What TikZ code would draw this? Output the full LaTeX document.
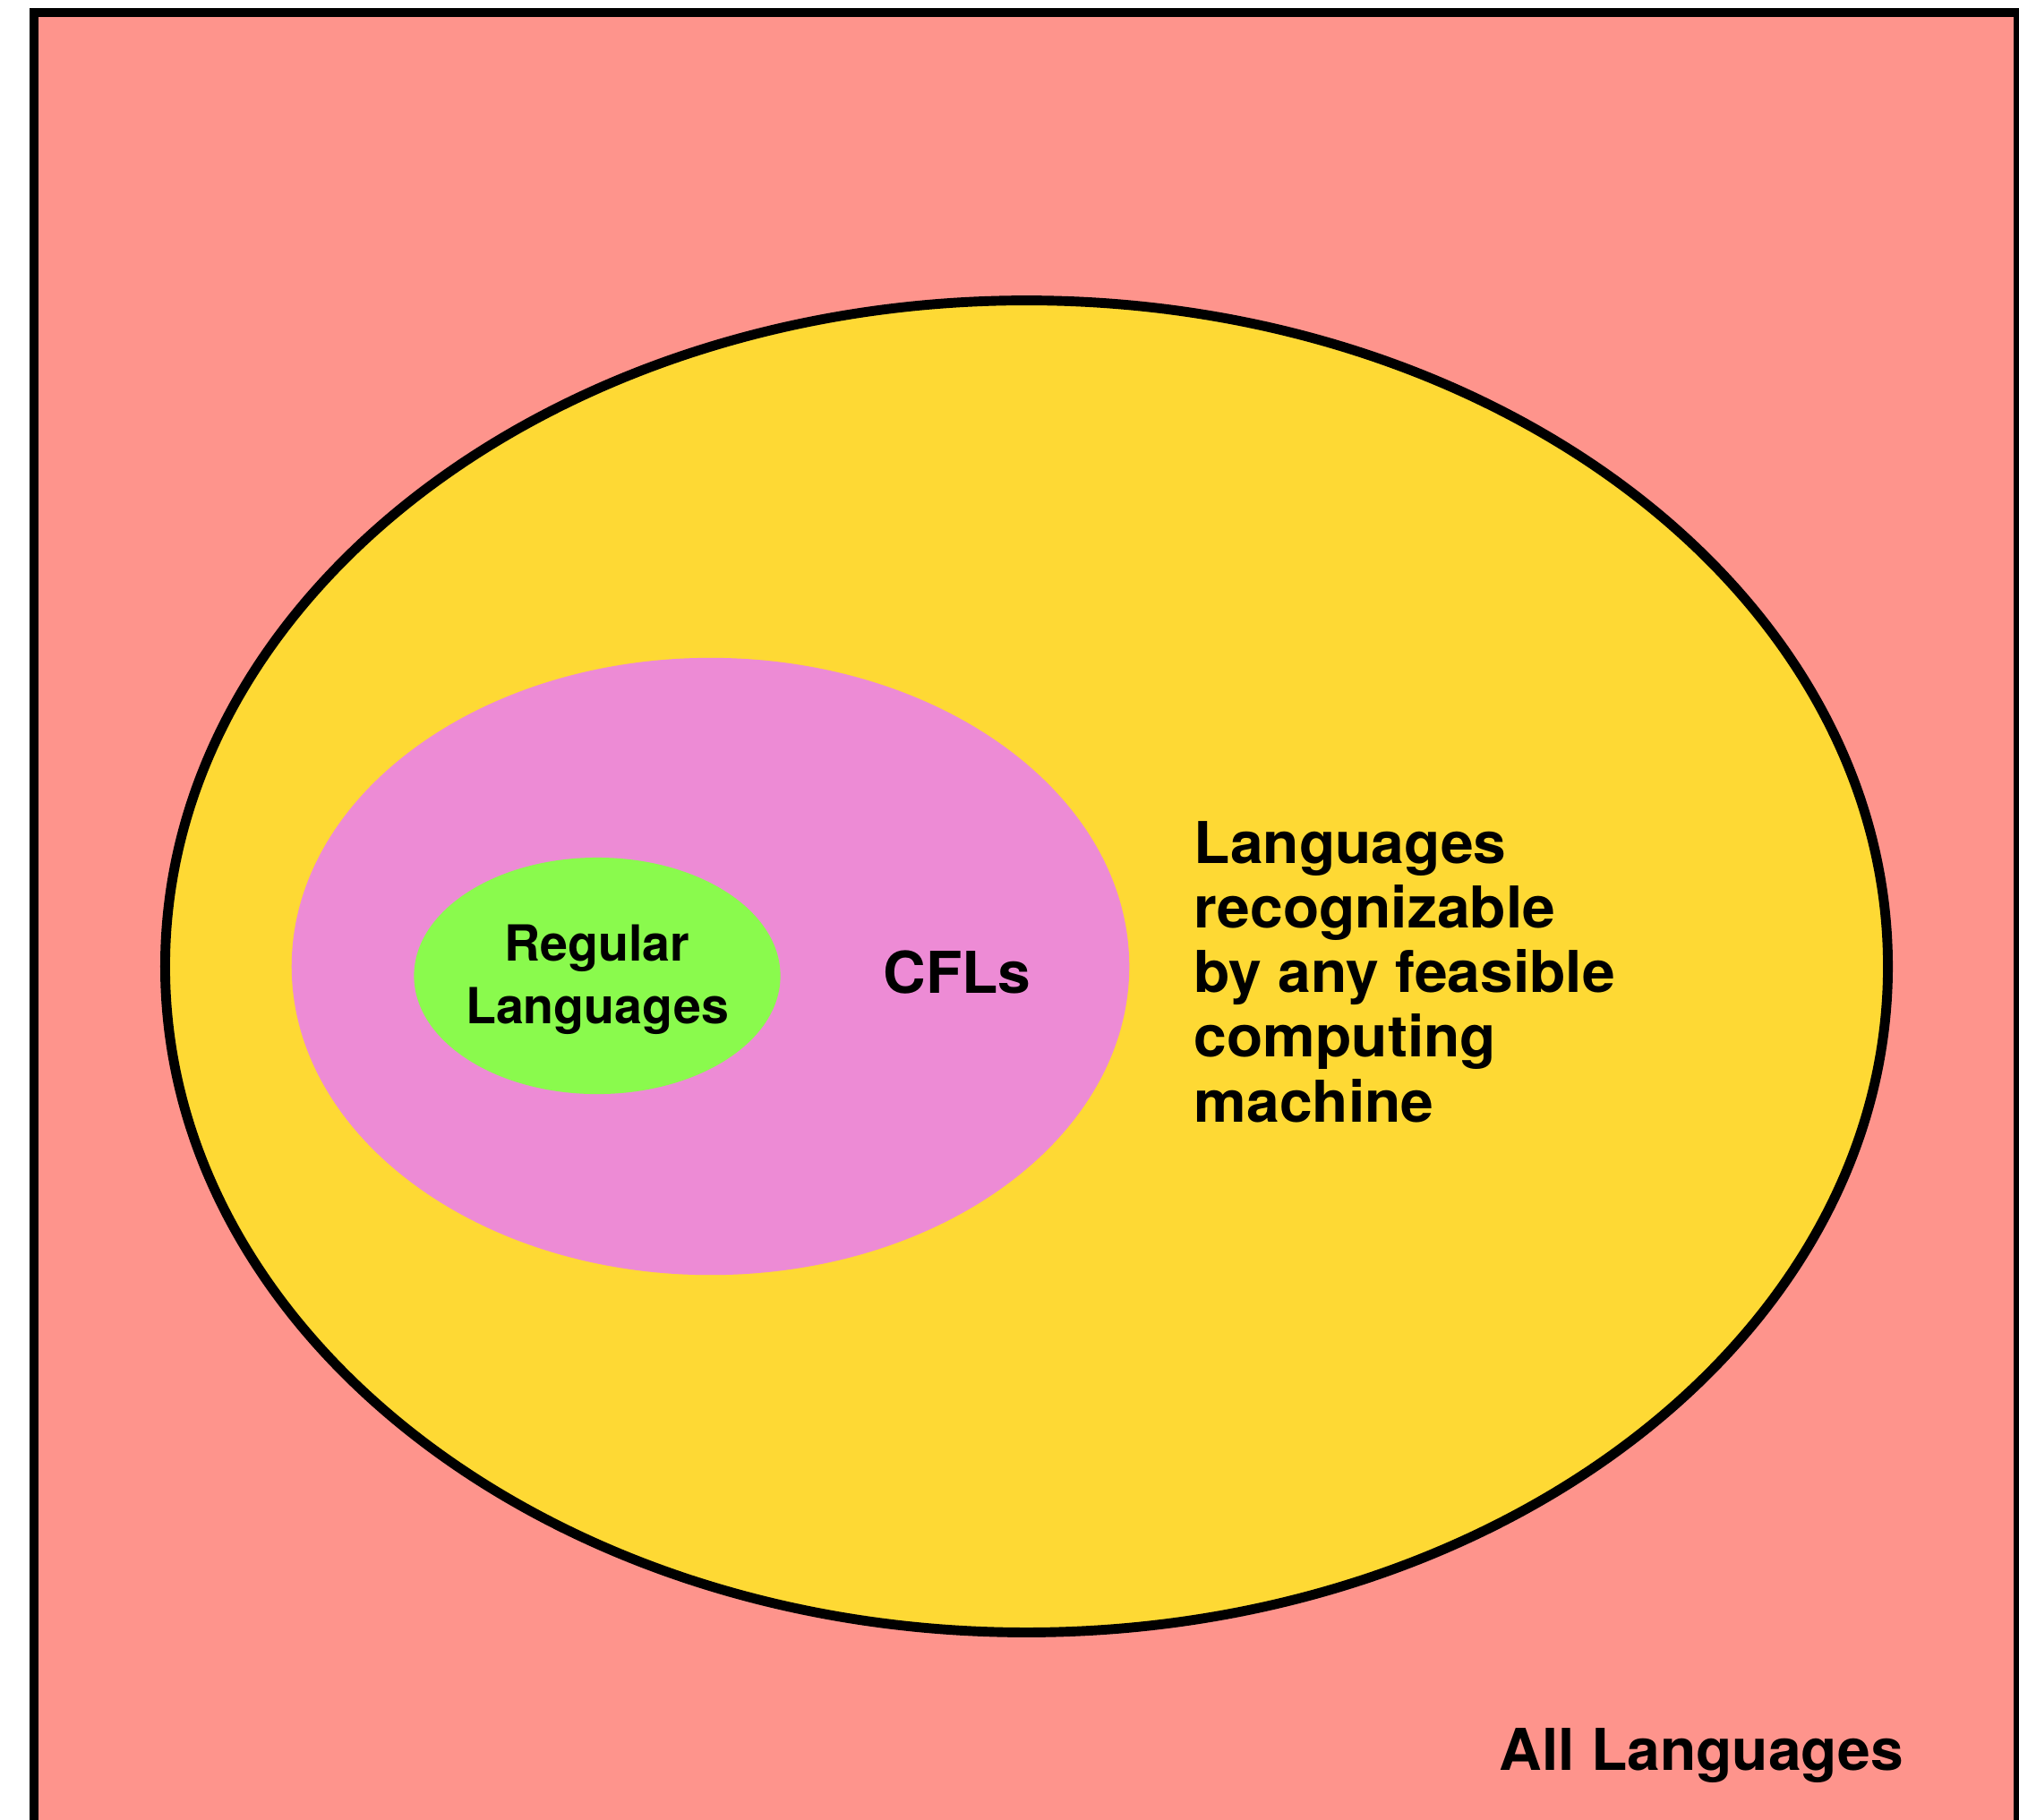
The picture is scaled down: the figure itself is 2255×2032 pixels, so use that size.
\documentclass[tikz,border=0pt]{standalone}
\usepackage{fontspec}
\setmainfont{TeX Gyre Heros}
\newfontfamily\widefont[FakeStretch=1.025]{TeX Gyre Heros}
\usetikzlibrary{shapes.geometric}
\definecolor{bgsalmon}{RGB}{254,148,140}
\definecolor{setyellow}{RGB}{254,217,52}
\definecolor{setpink}{RGB}{237,139,213}
\definecolor{setgreen}{RGB}{138,250,77}
\begin{document}
\begin{tikzpicture}[x=0.01cm,y=-0.01cm,
  setshape/.style={ellipse, inner sep=0pt, outer sep=0pt},
  biglbl/.style={font=\widefont\bfseries\fontsize{18.3}{20.5}\selectfont, inner sep=0pt, align=left},
  smalllbl/.style={font=\bfseries\fontsize{15.8}{19.9}\selectfont, inner sep=0pt, align=center}]
\useasboundingbox (0,0) rectangle (2255,2032);
\clip (0,0) rectangle (2255,2032);
\fill[white] (0,0) rectangle (2255,2032);
\draw[line width=2.85pt, fill=bgsalmon] (38,14) rectangle (2254,2090);
\node[setshape, draw, line width=3.1pt, fill=setyellow, minimum width=19.23cm, minimum height=14.87cm] (yellow) at (1146.5,1079.5) {};
\node[setshape, fill=setpink, minimum width=9.35cm, minimum height=6.89cm] (pink) at (793.5,1079.5) {};
\node[setshape, fill=setgreen, minimum width=4.09cm, minimum height=2.64cm] (green) at (667,1090) {};
\node[smalllbl] (reglbl) at (667,1094) {Regular\\Languages};
\node[biglbl, anchor=base west] (cfllbl) at (986,1109) {CFLs};
\node[biglbl, anchor=north west] (feaslbl) at (1333,917) {Languages\\recognizable\\by any feasible\\computing\\machine};
\node[biglbl, anchor=base west] (alllbl) at (1674,1977) {All Languages};
\end{tikzpicture}
\end{document}
